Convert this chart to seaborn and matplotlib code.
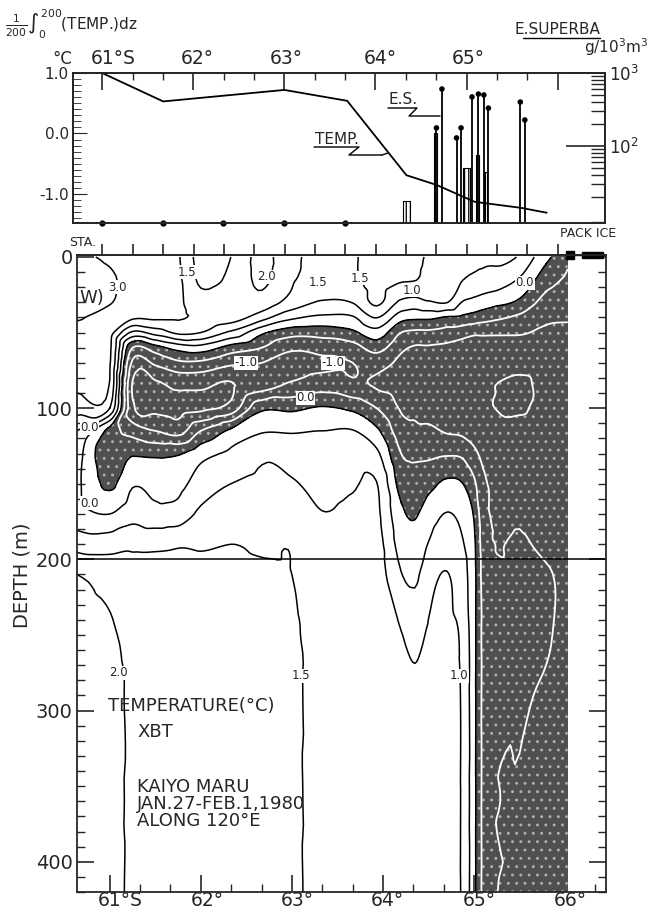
import numpy as np
import matplotlib
matplotlib.use('Agg')
import matplotlib.pyplot as plt
import matplotlib.ticker as mticker
import matplotlib.tri as mtri
from matplotlib.lines import Line2D
from matplotlib.patches import Rectangle
import seaborn as sns

#%% data
# upper panel: 0-200 m mean temperature along the section (deg C)
temp_lat = [61.0, 61.67, 63.0, 63.69, 64.34, 64.67, 65.09, 65.6, 65.88]
temp_val = [1.0, 0.53, 0.72, 0.54, -0.69, -0.85, -1.13, -1.23, -1.31]

# E. superba biomass, g/10^3 m^3 (stems with dots)
es_lat = [64.67, 64.73, 64.89, 64.94, 65.06, 65.13, 65.19, 65.24, 65.59, 65.64]
es_val = [177, 604, 129, 177, 470, 515, 500, 330, 400, 227]
# hatched blocks
blk_lat = [64.34, 64.66, 65.0, 65.12, 65.21]
blk_val = [17.7, 150, 50, 75, 44]
blk_w = [0.07, 0.04, 0.07, 0.04, 0.04]
dot_lat = [61.0, 61.67, 62.33, 63.0, 63.67]

# lower panel: XBT temperature section
sec_lat = [60.64, 61.0, 61.25, 61.5, 61.75, 62.0, 62.33, 62.67, 63.0, 63.33, 63.67,
           63.93, 64.2, 64.35, 64.5, 64.7, 64.87, 65.0, 65.1, 65.5, 65.8, 66.03]
sec_dep = [0, 15, 30, 40, 50, 60, 70, 85, 100, 115, 130, 150, 170, 190, 210, 250, 300, 360, 420]
# one profile per station (same order as sec_dep)
profiles = [
    [3.1, 3.3, 3.3, 3.1, 2.6, 2.3, 2.2, 2.1, 1.7, 1.0, 0.7, 0.6, 0.7, 1.3, 2.0, 2.2, 2.2, 2.2, 2.2],       # 60.64
    [2.9, 3.1, 3.05, 2.6, 2.2, 2.1, 2.05, 1.95, 1.5, -0.2, -0.4, -0.1, 0.5, 1.3, 1.8, 2.05, 2.1, 2.1, 2.1],  # 61.0
    [2.7, 2.75, 2.6, 2.1, 0.9, -0.5, -1.1, -1.55, -1.4, -0.7, -0.05, 0.45, 0.8, 1.4, 1.65, 1.9, 1.95, 1.95, 1.95],
    [2.4, 2.45, 2.35, 2.1, 1.2, -0.2, -0.9, -1.6, -1.6, -1.0, -0.1, 0.35, 0.65, 1.4, 1.65, 1.85, 1.9, 1.9, 1.9],
    [2.05, 2.1, 2.1, 2.05, 1.6, 0.2, -0.6, -1.4, -1.65, -1.2, -0.05, 0.35, 0.7, 1.45, 1.65, 1.8, 1.85, 1.85, 1.85],
    [1.3, 1.4, 1.7, 1.9, 1.5, 0.3, -0.6, -1.4, -1.6, -0.5, 0.3, 0.75, 1.1, 1.45, 1.6, 1.75, 1.8, 1.8, 1.8],
    [1.5, 1.6, 1.85, 1.75, 0.9, -0.2, -0.9, -1.55, -1.3, 0.1, 0.6, 1.0, 1.3, 1.5, 1.6, 1.7, 1.75, 1.75, 1.75],
    [2.15, 2.1, 1.8, 1.2, 0.1, -0.5, -1.0, -1.2, -0.1, 0.45, 0.9, 1.1, 1.3, 1.45, 1.55, 1.6, 1.6, 1.6, 1.6],
    [1.6, 1.55, 1.3, 0.6, -0.3, -0.9, -1.2, -0.9, -0.1, 0.45, 0.8, 1.05, 1.35, 1.48, 1.5, 1.55, 1.55, 1.55, 1.55],
    [1.4, 1.35, 0.95, 0.4, -0.3, -0.8, -1.1, -0.7, 0.05, 0.5, 0.7, 0.85, 1.02, 1.2, 1.3, 1.35, 1.4, 1.4, 1.4],
    [1.45, 1.4, 1.02, 0.45, -0.1, -0.7, -1.0, -0.9, -0.1, 0.52, 0.75, 0.95, 1.1, 1.2, 1.25, 1.3, 1.3, 1.3, 1.3],
    [1.7, 1.7, 1.6, 1.02, 0.3, -0.3, -0.8, -1.05, -0.5, 0.1, 0.6, 1.02, 1.1, 1.2, 1.25, 1.3, 1.3, 1.3, 1.3],
    [1.6, 1.55, 0.9, 0.2, -0.5, -0.9, -1.1, -1.2, -1.05, -0.8, -0.5, -0.2, 0.1, 0.3, 0.52, 1.02, 1.2, 1.25, 1.25],
    [1.6, 1.52, 0.8, 0.1, -0.6, -1.05, -1.2, -1.3, -1.1, -0.9, -0.6, -0.3, -0.05, 0.2, 0.4, 0.85, 1.15, 1.2, 1.2],
    [1.45, 1.35, 0.95, 0.1, -0.6, -1.05, -1.2, -1.3, -1.2, -0.9, -0.6, -0.15, 0.25, 0.52, 0.8, 1.05, 1.15, 1.15, 1.15],
    [1.3, 1.25, 1.02, -0.05, -0.7, -1.1, -1.3, -1.4, -1.3, -1.05, -0.55, 0.1, 0.52, 0.8, 1.02, 1.1, 1.1, 1.1, 1.1],
    [1.2, 1.02, 0.48, -0.1, -0.8, -1.2, -1.4, -1.45, -1.4, -1.1, -0.6, 0.02, 0.35, 0.55, 0.7, 0.9, 0.95, 0.95, 0.95],
    [1.15, 0.9, 0.35, -0.2, -0.9, -1.3, -1.4, -1.45, -1.4, -1.2, -0.9, -0.4, -0.05, 0.1, 0.15, 0.15, 0.15, 0.15, 0.15],
    [1.1, 0.85, 0.25, -0.3, -0.9, -1.3, -1.4, -1.45, -1.45, -1.3, -1.1, -0.9, -0.8, -0.7, -0.65, -0.6, -0.6, -0.6, -0.6],
    [0.95, 0.45, -0.1, -0.6, -0.95, -1.2, -1.35, -1.6, -1.55, -1.35, -1.2, -1.1, -1.05, -0.95, -0.9, -0.85, -0.95, -1.05, -1.1],
    [0.1, -0.3, -0.7, -0.9, -1.1, -1.2, -1.3, -1.35, -1.35, -1.3, -1.2, -1.15, -1.1, -1.05, -0.98, -0.98, -1.05, -1.1, -1.15],
    [-0.4, -0.6, -0.8, -0.95, -1.1, -1.2, -1.25, -1.3, -1.3, -1.25, -1.2, -1.15, -1.1, -1.1, -1.05, -1.05, -1.1, -1.15, -1.2],  # ice edge
]
pos_levels = [0.0, 0.5, 1.0, 1.5, 2.0, 3.0]
neg_levels = [-1.5, -1.0, -0.5]

#%% figure
sns.set_style('ticks')
plt.rcParams['font.family'] = ['DejaVu Sans']
plt.rcParams['hatch.linewidth'] = 0.9
plt.rcParams['axes.linewidth'] = 1.3

W, H = 652, 915
fig = plt.figure(figsize=(W / 100, H / 100), dpi=100)

def ftext(x, y, s, **kw):
    # place text at pixel position (from top-left)
    kw.setdefault('va', 'center')
    return fig.text(x / W, 1 - y / H, s, **kw)

def fline(xs, ys, **kw):
    fig.add_artist(Line2D([x / W for x in xs], [1 - y / H for y in ys],
                          transform=fig.transFigure, color='k', lw=1, **kw))

#%% upper panel
ax1 = fig.add_axes([73 / W, 1 - 223 / H, 532 / W, 150 / H])
sns.lineplot(x=temp_lat, y=temp_val, ax=ax1, color='k', lw=1.3)
ax1.set_xlim(60.68, 66.52)
ax1.set_ylim(-1.48, 1.0)
ax1.set_xlabel('')
ax1.set_ylabel('')
ax1.xaxis.tick_top()
ax1.set_xticks([61, 62, 63, 64, 65, 66])
ax1.set_xticklabels([])
ax1.xaxis.set_minor_locator(mticker.FixedLocator(np.arange(61, 66.01, 1 / 3)))
ax1.tick_params(axis='x', which='major', direction='in', length=12, width=1.2)
ax1.tick_params(axis='x', which='minor', direction='in', length=5, width=1)
ax1.set_yticks([-1, 0, 1])
ax1.set_yticklabels(['-1.0', '0.0', '1.0'])
ax1.yaxis.set_minor_locator(mticker.MultipleLocator(0.1))
ax1.tick_params(axis='y', which='major', direction='in', length=10, labelsize=11, pad=3)
ax1.tick_params(axis='y', which='minor', direction='in', length=6)
ax1.plot(dot_lat, [-1.48] * len(dot_lat), 'o', color='k', ms=3.5, clip_on=False)

ax2 = ax1.twinx()
ax2.set_yscale('log')
ax2.set_ylim(8.8, 1000)
ax2.vlines(es_lat, 8.8, es_val, color='k', lw=1.3)
sns.scatterplot(x=es_lat, y=es_val, ax=ax2, color='k', s=16, edgecolor='none', legend=False)
ax2.bar(blk_lat, np.array(blk_val) - 8.8, bottom=8.8, width=blk_w, fill=False,
        hatch='||||', edgecolor='k', lw=0.8)
ax2.set_yticks([100, 1000])
ax2.set_yticklabels(['$10^2$', '$10^3$'])
ax2.yaxis.set_minor_locator(mticker.LogLocator(subs=np.arange(2, 10)))
ax2.yaxis.set_minor_formatter(mticker.NullFormatter())
ax2.tick_params(axis='y', which='major', direction='in', length=28, width=1.2, labelsize=12, pad=3)
ax2.tick_params(axis='y', which='minor', direction='in', length=10, width=1)
ax2.set_ylabel('')

for lab, x in zip(['61°S', '62°', '63°', '64°', '65°'], [113, 197, 286, 380, 468]):
    ftext(x, 59, lab, ha='center', fontsize=13.5)
ftext(62, 59, '°C', ha='center', fontsize=12)
ftext(5, 24, r'$\frac{1}{200}\int_0^{200}$(TEMP.)dz', ha='left', fontsize=11)
ftext(600, 29, 'E.SUPERBA', ha='right', fontsize=11)
fline([523, 600], [38, 38])
ftext(616, 47, 'g/10$^3$m$^3$', ha='center', fontsize=11)

# leaders
ftext(315, 139, 'TEMP.', ha='left', fontsize=11)
fline([314, 359, 349, 382], [147, 147, 155, 155])
fline([382, 388], [155, 153])
ftext(389, 100, 'E.S.', ha='left', fontsize=11)
fline([388, 417, 409, 440], [108, 108, 116, 116])

#%% lower panel
ax3 = fig.add_axes([77 / W, 1 - 892 / H, 529 / W, 637 / H])
T = np.array(profiles).T
# smooth the hand-read grid with a cubic triangulated interpolation (lat scaled ~ pixels)
LL, DD = np.meshgrid(sec_lat, sec_dep)
xs = 60.0
tri = mtri.Triangulation(LL.ravel() * xs, DD.ravel())
refiner = mtri.UniformTriRefiner(tri)
interp = mtri.CubicTriInterpolator(tri, T.ravel(), kind='geom')
tri_f, T_f = refiner.refine_field(T.ravel(), triinterpolator=interp, subdiv=3)
tri_f = mtri.Triangulation(tri_f.x / xs, tri_f.y, tri_f.triangles)

# stippled cold water (< 0 deg C): dark base with light speckle
cf = ax3.tricontourf(tri_f, T_f, levels=[-5, 0], colors=['#4f4f4f'], hatches=['..'])
cf.set_edgecolor('#b0b0b0')
cf.set_linewidth(0)
ax3.tricontour(tri_f, T_f, levels=neg_levels, colors='white', linewidths=1.3, linestyles='solid')
ax3.tricontour(tri_f, T_f, levels=pos_levels, colors='k', linewidths=1.1, linestyles='solid')
ax3.axhline(200, color='k', lw=1.1)
ax3.set_xlim(60.64, 66.45)
ax3.set_ylim(420, -1.3)
ax3.set_xticks([61, 62, 63, 64, 65, 66])
ax3.set_xticklabels([])
ax3.xaxis.set_minor_locator(mticker.FixedLocator(np.arange(61, 66.4, 1 / 3)))
ax3.tick_params(axis='x', which='major', direction='in', length=12, width=1.2, top=False)
ax3.tick_params(axis='x', which='minor', direction='in', length=6, width=1, top=False)
ax3.set_yticks([0, 100, 200, 300, 400])
ax3.yaxis.set_minor_locator(mticker.MultipleLocator(10))
ax3.tick_params(axis='y', which='major', direction='in', length=12, width=1.2,
                labelsize=14, right=True, pad=3)
ax3.tick_params(axis='y', which='minor', direction='in', length=6, width=1, right=True)

sta = ax3.secondary_xaxis('top')
sta.set_xticks(np.arange(60.92, 66.0, 1 / 3))
sta.tick_params(direction='out', length=8, width=1.2, labeltop=False)

for lab, x in zip(['61°S', '62°', '63°', '64°', '65°', '66°'], [120, 207, 297, 387, 479, 570]):
    ftext(x, 900, lab, ha='center', fontsize=13.5)
ftext(22, 575, 'DEPTH (m)', ha='center', rotation=90, fontsize=14)
ftext(69, 243, 'STA.', ha='left', fontsize=9)
ftext(588, 234, 'PACK ICE', ha='center', fontsize=9)

# pack ice marks on the surface line
ax3.plot([66.05, 66.42], [-1.3, -1.3], color='k', lw=1, clip_on=False)
ax3.plot([66.05], [-1.3], 's', color='k', ms=6, clip_on=False)
ax3.add_patch(Rectangle((66.19, -3.3), 0.23, 4, facecolor='k', edgecolor='k', clip_on=False))

# contour labels
lbl = dict(fontsize=8.5, ha='center', va='center')
for s, x, y in [('3.0', 61.08, 20), ('1.5', 61.85, 10), ('2.0', 62.72, 13), ('1.5', 63.29, 17),
                ('1.5', 63.75, 14), ('1.0', 64.32, 22), ('0.0', 65.56, 17),
                ('0.0', 60.78, 113), ('0.0', 60.78, 163), ('0.0', 63.15, 93),
                ('2.0', 61.09, 275), ('1.5', 63.1, 277), ('1.0', 64.84, 277)]:
    ax3.text(x, y, s, bbox=dict(facecolor='white', edgecolor='none', pad=0.3), **lbl)
for x, y in [(62.5, 70), (63.45, 70)]:
    ax3.text(x, y, '-1.0', bbox=dict(facecolor='white', edgecolor='none', pad=0.3), **lbl)
ax3.text(60.8, 27, 'W)', fontsize=13, ha='center', va='center')

ftext(108, 706, 'TEMPERATURE(°C)', ha='left', fontsize=13)
ftext(137, 732, 'XBT', ha='left', fontsize=13)
ftext(137, 787, 'KAIYO MARU', ha='left', fontsize=13)
ftext(137, 804, 'JAN.27-FEB.1,1980', ha='left', fontsize=13)
ftext(137, 821, 'ALONG 120°E', ha='left', fontsize=13)

fig.savefig('out.png', dpi=100)
